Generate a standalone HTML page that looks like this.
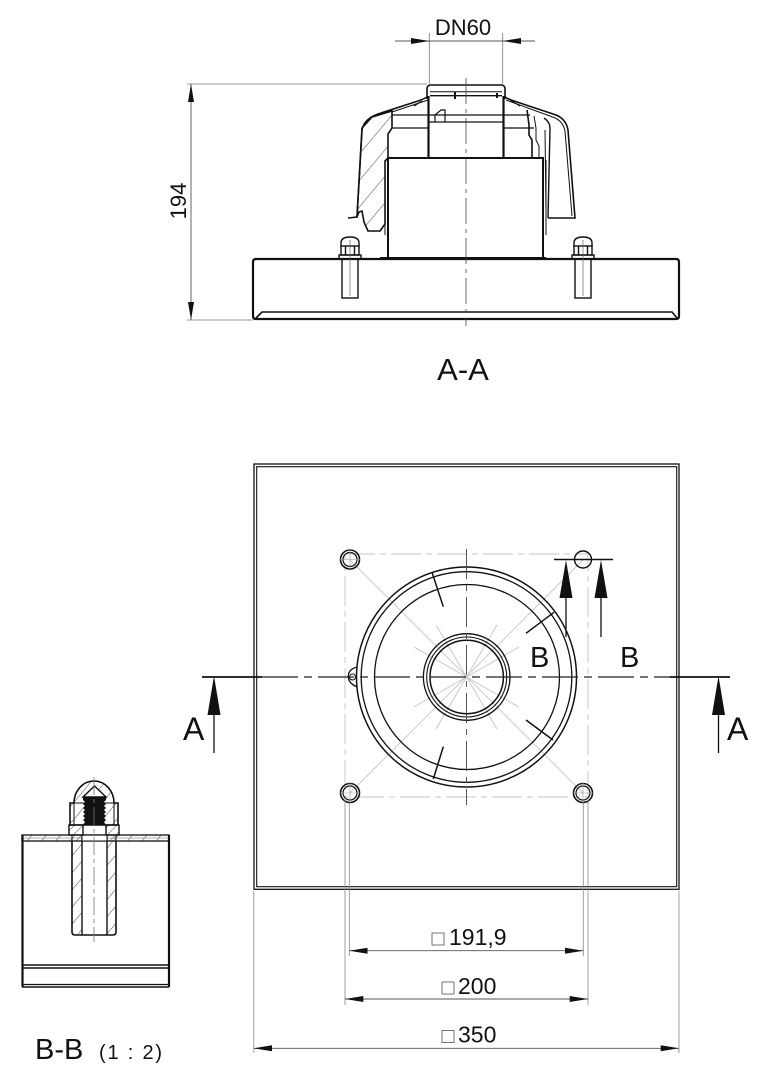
<!DOCTYPE html>
<html>
<head>
<meta charset="utf-8">
<style>
html,body{margin:0;padding:0;background:#fff;}
svg{display:block;}
text{font-family:"Liberation Sans",sans-serif;fill:#111;}
</style>
</head>
<body>
<svg width="760" height="1080" viewBox="0 0 760 1080" xmlns="http://www.w3.org/2000/svg">
<defs>
<pattern id="h1" width="17" height="17" patternUnits="userSpaceOnUse" patternTransform="rotate(40)">
<line x1="0" y1="0" x2="0" y2="17" stroke="#333" stroke-width="0.9"/>
</pattern>
<pattern id="h2" width="11" height="11" patternUnits="userSpaceOnUse" patternTransform="rotate(40)">
<line x1="0" y1="0" x2="0" y2="11" stroke="#333" stroke-width="0.9"/>
</pattern>
<pattern id="h3" width="6" height="6" patternUnits="userSpaceOnUse" patternTransform="rotate(45)">
<line x1="0" y1="0" x2="0" y2="6" stroke="#333" stroke-width="0.9"/>
</pattern>
</defs>
<rect width="760" height="1080" fill="#fff"/>

<!-- ================= A-A SECTION ================= -->
<g fill="none" stroke="#111">
  <line x1="429.3" y1="33" x2="429.3" y2="84" stroke="#777" stroke-width="0.8"/>
  <line x1="502.7" y1="33" x2="502.7" y2="84" stroke="#777" stroke-width="0.8"/>
  <line x1="395" y1="41" x2="535" y2="41" stroke="#555" stroke-width="0.9"/>
  <line x1="187" y1="84" x2="427" y2="84" stroke="#777" stroke-width="0.8"/>
  <line x1="187" y1="320" x2="253" y2="320" stroke="#777" stroke-width="0.8"/>
  <line x1="191" y1="84" x2="191" y2="320" stroke="#555" stroke-width="0.9"/>

  <path d="M253,262 Q253,259 256,259 L676,259 Q679,259 679,262 L679,316 Q679,319 676,319 L256,319 Q253,319 253,316 Z" stroke-width="2.2"/>
  <path d="M256,318 L262,312 L672,312 L677,318" stroke-width="1.6"/>
  <line x1="380" y1="258.5" x2="546" y2="258.5" stroke-width="3"/>

  <rect x="388" y="158" width="155" height="100" stroke-width="2"/>
  <line x1="385" y1="160" x2="385" y2="235" stroke-width="1"/>
  <line x1="546" y1="160" x2="546" y2="235" stroke-width="1"/>

  <path d="M427,99 L427,89 Q427,85 431,85 L501,85 Q505,85 505,89 L505,99" stroke-width="1.6"/>
  <line x1="430" y1="91.7" x2="502" y2="91.7" stroke-width="1"/>
  <line x1="430" y1="95.7" x2="502" y2="95.7" stroke-width="1.4"/>
  <line x1="428.5" y1="96" x2="428.5" y2="158" stroke-width="2.2"/>
  <line x1="503.5" y1="96" x2="503.5" y2="158" stroke-width="2.2"/>
  <line x1="392" y1="115" x2="530" y2="115" stroke-width="1.2"/>
  <line x1="428" y1="122" x2="504" y2="122" stroke-width="1.2"/>
  <line x1="392" y1="128" x2="428" y2="128" stroke-width="1.2"/>
  <line x1="504" y1="128" x2="534" y2="128" stroke-width="1.2"/>
  <path d="M455,92 L455,99 M497,93 L497,98" stroke-width="2"/>
  <path d="M435,122 L435,115 L441,110 L445,110 L445,122" stroke-width="1.2"/>

  <path d="M427,97 Q424,99 418,101 L378,114 Q364,119 362,130 L357,217 L348,218" stroke-width="1.6"/>
  <path d="M428,100 L392,112" stroke-width="1"/>
  <path d="M362,128 L372,117 L392,111 L392,128 L388,134 L388,158 L385,161 L385,224 L380,231 L368,231 L364,222 L362,211 L359,212 L357,217 Z" fill="url(#h1)" stroke-width="1.6"/>

  <path d="M505,97 Q508,99 514,101 L556,115 Q566,119 568,130 L575,218 L548,218" stroke-width="1.6"/>
  <path d="M506,100 L554,117.5 Q563,121 565,131 L572,216" stroke-width="1"/>
  <path d="M548,218 L550,128 Q550,122 544,118" stroke-width="1.4"/>
  <path d="M545,130 L546,212" stroke-width="1"/>
  <path d="M527,110 L529,125 L529,135 L532,140 L532,158" stroke-width="1.6"/>
  <path d="M534,116 L536,128 L536,140 L539,146 L539,158" stroke-width="1"/>
  <path d="M510,100 L520,106" stroke-width="1.2"/>
  <path d="M422,101 L414,106" stroke-width="1.2"/>

  <g stroke-width="1.4">
    <path d="M341,247 L341,243 Q341,237 350,237 Q359,237 359,243 L359,247"/>
    <rect x="341" y="246" width="18" height="9"/>
    <line x1="345.5" y1="246" x2="345.5" y2="255"/>
    <line x1="354.5" y1="246" x2="354.5" y2="255"/>
    <rect x="339" y="255" width="22" height="4"/>
    <rect x="342" y="259" width="16" height="39"/>
    <line x1="350" y1="240" x2="350" y2="296" stroke="#666" stroke-width="0.7"/>

    <path d="M574,247 L574,243 Q574,237 583,237 Q592,237 592,243 L592,247"/>
    <rect x="574" y="246" width="18" height="9"/>
    <line x1="578.5" y1="246" x2="578.5" y2="255"/>
    <line x1="587.5" y1="246" x2="587.5" y2="255"/>
    <rect x="572" y="255" width="22" height="4"/>
    <rect x="575" y="259" width="16" height="39"/>
    <line x1="583" y1="240" x2="583" y2="296" stroke="#666" stroke-width="0.7"/>
  </g>

  <line x1="466" y1="78" x2="466" y2="326" stroke="#444" stroke-width="0.8" stroke-dasharray="26 5 4 5"/>
</g>
<g fill="#111">
  <polygon points="429.3,41 411,38 411,44"/>
  <polygon points="502.7,41 521,38 521,44"/>
  <polygon points="191,84 188,102 194,102"/>
  <polygon points="191,320 188,302 194,302"/>
</g>
<text x="463" y="35" font-size="22" text-anchor="middle">DN60</text>
<text transform="translate(186,201) rotate(-90)" font-size="22" text-anchor="middle">194</text>
<text x="463" y="380" font-size="31" text-anchor="middle">A-A</text>

<!-- ================= PLAN VIEW ================= -->
<g fill="none">
  <rect x="254" y="464" width="425" height="425.3" stroke="#111" stroke-width="1.3"/>
  <rect x="256.7" y="466.7" width="420" height="420" stroke="#111" stroke-width="1.1"/>

  <g stroke="#c4c4c4" stroke-width="0.9">
    <path d="M345,554 L588,554 L588,797 L345,797 Z" stroke-dasharray="30 5 6 5"/>
    <line x1="350" y1="560" x2="583" y2="793"/>
    <line x1="583" y1="560" x2="350" y2="793"/>
    <line x1="436" y1="625" x2="497" y2="729"/>
    <line x1="497" y1="625" x2="436" y2="729"/>
    <line x1="414" y1="647" x2="519" y2="707"/>
    <line x1="519" y1="647" x2="414" y2="707"/>
  </g>

  <g stroke="#111">
    <circle cx="466.5" cy="677" r="110" stroke-width="1.5"/>
    <circle cx="466.5" cy="677" r="105.3" stroke-width="1.3"/>
    <circle cx="467" cy="677" r="92.5" stroke-width="1.3"/>
    <circle cx="466.7" cy="677" r="43.3" stroke-width="1.3"/>
    <circle cx="466.7" cy="677" r="40" stroke-width="1.1"/>
    <circle cx="466.7" cy="677" r="36.7" stroke-width="1.5"/>
    <line x1="432" y1="572.3" x2="443.3" y2="606.7" stroke-width="1.5"/>
    <line x1="554" y1="612.3" x2="526" y2="633.3" stroke-width="1.5"/>
    <line x1="526" y1="720" x2="553" y2="740" stroke-width="1.5"/>
    <line x1="443.3" y1="746.7" x2="433.3" y2="779" stroke-width="1.5"/>
    <path d="M357.5,667 Q348,669 348.3,677 Q349,684 357.5,687" stroke-width="1.3"/>
    <circle cx="352.5" cy="677" r="3" stroke-width="1"/>
    <circle cx="350" cy="559.5" r="9.5" stroke-width="1.6"/>
    <circle cx="350" cy="559.5" r="7" stroke-width="1.2"/>
    <circle cx="583" cy="559.5" r="8.5" stroke-width="1.4"/>
    <circle cx="350" cy="793" r="9.5" stroke-width="1.6"/>
    <circle cx="350" cy="793" r="7" stroke-width="1.2"/>
    <circle cx="583" cy="793" r="9.5" stroke-width="1.6"/>
    <circle cx="583" cy="793" r="7" stroke-width="1.2"/>
  </g>
  <g stroke="#999" stroke-width="0.6">
    <path d="M340,559.5 H360 M350,549.5 V569.5 M340,793 H360 M350,783 V803 M573,793 H593 M583,783 V803"/>
  </g>

  <line x1="466.5" y1="549" x2="466.5" y2="805" stroke="#444" stroke-width="0.9" stroke-dasharray="30 6 6 6"/>
  <line x1="262" y1="677" x2="670" y2="677" stroke="#222" stroke-width="1.2" stroke-dasharray="36 6 8 6"/>
  <line x1="202" y1="677" x2="262" y2="677" stroke="#111" stroke-width="1.8"/>
  <line x1="670" y1="677" x2="730" y2="677" stroke="#111" stroke-width="1.8"/>

  <line x1="554" y1="559.5" x2="613" y2="559.5" stroke="#111" stroke-width="1.6"/>
  <line x1="566" y1="596" x2="566" y2="637" stroke="#111" stroke-width="1.3"/>
  <line x1="601" y1="596" x2="601" y2="637" stroke="#111" stroke-width="1.3"/>
  <line x1="214" y1="712" x2="214" y2="753" stroke="#111" stroke-width="1.3"/>
  <line x1="718.5" y1="712" x2="718.5" y2="753" stroke="#111" stroke-width="1.3"/>

  <g stroke="#888" stroke-width="0.8">
    <line x1="349.3" y1="803" x2="349.3" y2="956"/>
    <line x1="583.3" y1="803" x2="583.3" y2="956"/>
    <line x1="345" y1="800" x2="345" y2="1005"/>
    <line x1="588" y1="800" x2="588" y2="1005"/>
    <line x1="253.8" y1="891" x2="253.8" y2="1053"/>
    <line x1="679" y1="891" x2="679" y2="1053"/>
  </g>
  <g stroke="#555" stroke-width="0.9">
    <line x1="349.3" y1="950.7" x2="583.3" y2="950.7"/>
    <line x1="345" y1="999" x2="588" y2="999"/>
    <line x1="253.8" y1="1048.3" x2="679" y2="1048.3"/>
  </g>
</g>
<g fill="#111">
  <polygon points="566,560 559.5,598 572.5,598"/>
  <polygon points="601,560 594.5,598 607.5,598"/>
  <polygon points="214,676 207.5,715 220.5,715"/>
  <polygon points="718.5,676 712,715 725,715"/>
  <polygon points="349.3,950.7 367.5,947.7 367.5,953.7"/>
  <polygon points="583.3,950.7 565,947.7 565,953.7"/>
  <polygon points="345,999 363.3,996 363.3,1002"/>
  <polygon points="588,999 569.7,996 569.7,1002"/>
  <polygon points="253.8,1048.3 272,1045.3 272,1051.3"/>
  <polygon points="679,1048.3 660.7,1045.3 660.7,1051.3"/>
</g>
<text x="530" y="667" font-size="29">B</text>
<text x="620" y="667" font-size="29">B</text>
<text x="183" y="740" font-size="32">A</text>
<text x="727" y="740" font-size="32">A</text>

<rect x="432" y="933" width="12" height="12" fill="none" stroke="#666" stroke-width="0.9"/>
<text x="449" y="945" font-size="23">191,9</text>
<rect x="442" y="982" width="12" height="12" fill="none" stroke="#666" stroke-width="0.9"/>
<text x="458" y="994" font-size="23">200</text>
<rect x="442" y="1030.5" width="12" height="12" fill="none" stroke="#666" stroke-width="0.9"/>
<text x="458" y="1042.5" font-size="23">350</text>

<!-- ================= B-B DETAIL ================= -->
<g fill="none" stroke="#111">
  <rect x="22" y="835" width="147" height="6" fill="url(#h2)" stroke-width="1.3"/>
  <line x1="22" y1="838" x2="169" y2="838" stroke-width="0.6" stroke="#666"/>
  <line x1="22.5" y1="835" x2="22.5" y2="987" stroke-width="2.2"/>
  <line x1="169" y1="835" x2="169" y2="987" stroke-width="2.2"/>
  <line x1="22" y1="965" x2="169" y2="965" stroke-width="1.4"/>
  <line x1="22" y1="968" x2="169" y2="968" stroke-width="1.4"/>
  <line x1="22" y1="984.5" x2="169" y2="984.5" stroke-width="1.2"/>
  <line x1="22" y1="987" x2="169" y2="987" stroke-width="1.6"/>

  <rect x="72" y="841" width="10" height="94" fill="url(#h2)" stroke="none"/>
  <rect x="107" y="841" width="9" height="94" fill="url(#h2)" stroke="none"/>
  <path d="M72,841 L72,932 Q72,935 75,935 L113,935 Q116,935 116,932 L116,841" stroke-width="1.6"/>
  <line x1="82" y1="835" x2="82" y2="935" stroke-width="1.4"/>
  <line x1="107" y1="835" x2="107" y2="935" stroke-width="1.4"/>
  <rect x="72" y="835" width="44" height="6" fill="url(#h3)" stroke-width="1"/>
  <rect x="82" y="835" width="25" height="6" fill="#fff" stroke-width="1"/>

  <rect x="69" y="825" width="14" height="10" fill="url(#h3)" stroke-width="1.4"/>
  <rect x="106" y="825" width="13" height="10" fill="url(#h3)" stroke-width="1.4"/>
  <line x1="83" y1="835" x2="106" y2="835" stroke-width="1.2"/>

  <path d="M70,825 L70,803 L74,803 A20,22 0 0 1 114,803 L118,803 L118,825 Z" fill="url(#h2)" stroke-width="1.6"/>
  <line x1="74" y1="803" x2="74" y2="825" stroke-width="1"/>
  <line x1="114" y1="803" x2="114" y2="825" stroke-width="1"/>
  <line x1="70" y1="803" x2="118" y2="803" stroke-width="1"/>
</g>
<polygon points="83,797 106,797 106,800 104,802 106,804 104,806 106,808 104,810 106,812 104,814 106,816 104,818 106,820 104,822 106,825 83,825 85,822 83,820 85,818 83,816 85,814 83,812 85,810 83,808 85,806 83,804 85,802 83,800" fill="#111"/>
<polygon points="83,797 94.5,786 106,797" fill="#fff" stroke="#111" stroke-width="1.4"/>
<line x1="94" y1="777" x2="94" y2="942" stroke="#777" stroke-width="0.8" stroke-dasharray="18 4 4 4"/>

<text x="35" y="1059" font-size="29">B-B</text>
<text x="99" y="1059" font-size="20" letter-spacing="1.8">(1 : 2)</text>
</svg>
</body>
</html>
